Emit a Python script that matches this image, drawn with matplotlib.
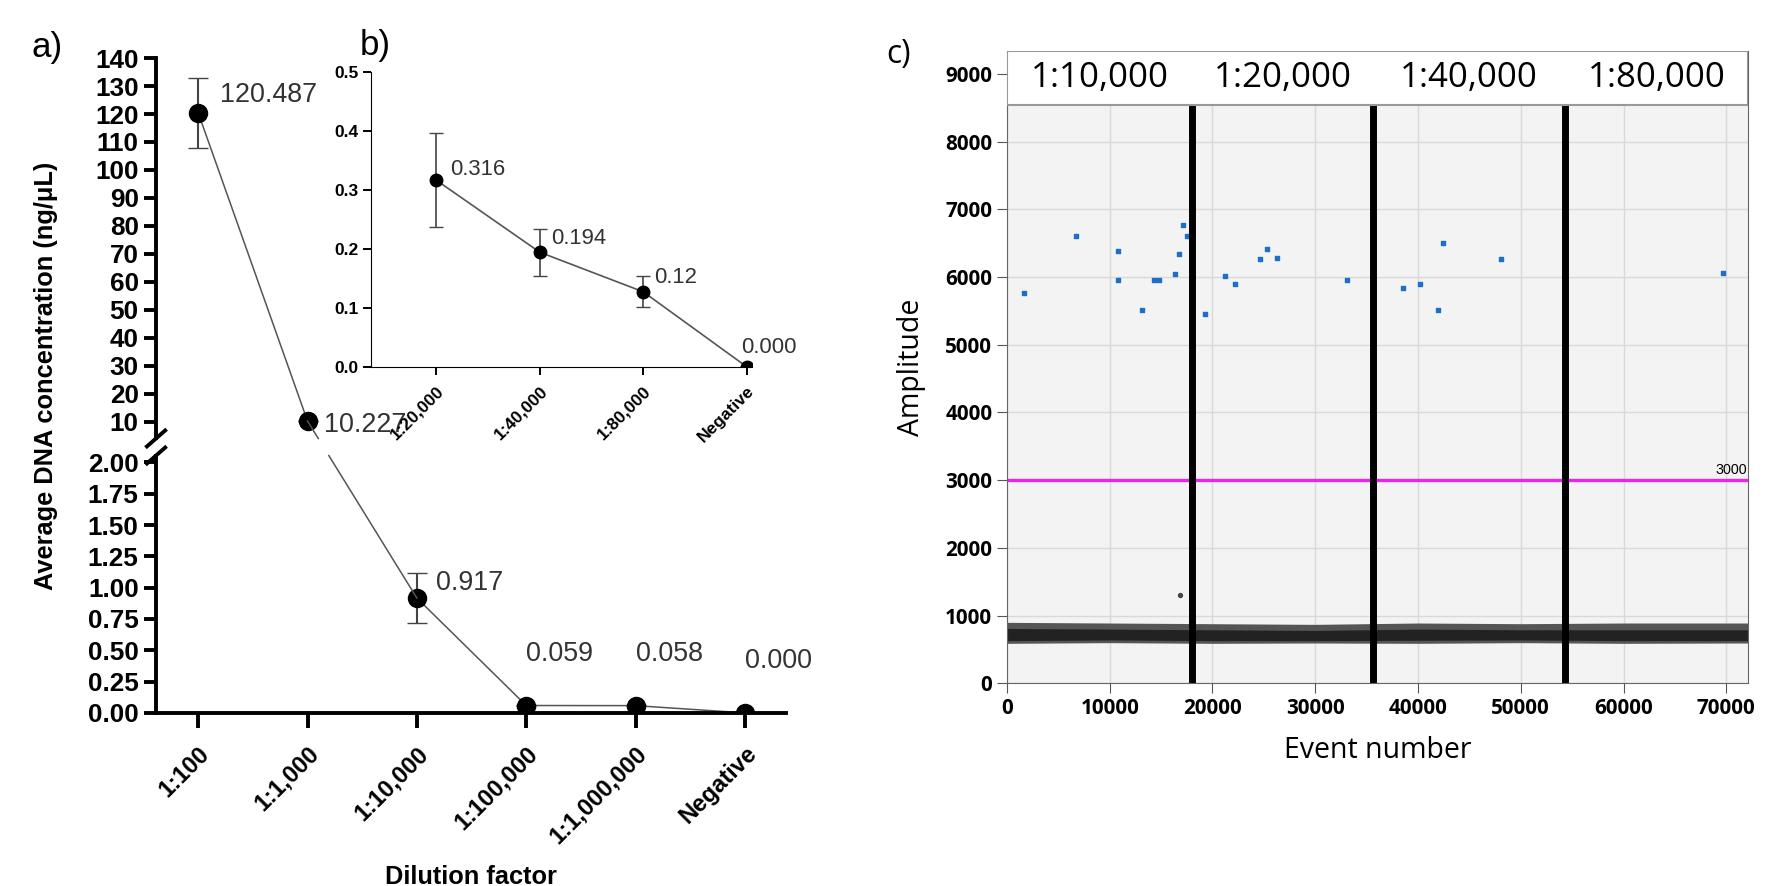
import matplotlib
matplotlib.use("Agg")
import matplotlib.pyplot as plt
import numpy as np

plt.rcParams['font.family'] = ['Liberation Sans', 'DejaVu Sans']

# ---- data panel a ----
cats_a = ["1:100", "1:1,000", "1:10,000", "1:100,000", "1:1,000,000", "Negative"]
vals_a = [120.487, 10.227, 0.917, 0.059, 0.058, 0.0]
err_a = [12.5, 0.0, 0.2, 0.004, 0.004, 0.0]
lbl_a = ["120.487", "10.227", "0.917", "0.059", "0.058", "0.000"]

# ---- data panel b ----
cats_b = ["1:20,000", "1:40,000", "1:80,000", "Negative"]
vals_b = [0.316, 0.194, 0.127, 0.0]
err_b = [0.080, 0.040, 0.026, 0.0]
lbl_b = ["0.316", "0.194", "0.12", "0.000"]

# ---- data panel c ----
pos_x = [1650, 6700, 10820, 10820, 13130, 14290, 14840, 16370, 16700, 17090, 17530,
         19290, 21260, 22200, 24620, 25270, 26320, 33080, 38570, 40220, 41920, 42420,
         48080, 69670]
pos_y = [5770, 6600, 6380, 5960, 5510, 5960, 5960, 6040, 6340, 6765, 6600,
         5450, 6020, 5900, 6260, 6420, 6280, 5955, 5830, 5900, 5510, 6500,
         6260, 6060]
neg_x = [0, 10000, 20000, 30000, 40000, 50000, 60000, 72150]
neg_lo = [590, 600, 590, 595, 590, 600, 590, 595]
neg_hi = [900, 890, 880, 870, 890, 880, 890, 890]
neg_core_lo = [630, 640, 630, 630, 635, 640, 630, 630]
neg_core_hi = [810, 800, 790, 780, 800, 790, 790, 790]
stray_x = [16800]
stray_y = [1300]
dividers = [18020, 35600, 54290]
sections = ["1:10,000", "1:20,000", "1:40,000", "1:80,000"]
threshold = 3000

W0, H0 = 1786, 886
W, H = 1568, 778   # coordinate basis used for layout
F = 1.14
fig = plt.figure(figsize=(W0/100, H0/100), dpi=100)

def fr(l, t, r, b):
    return [l/W, 1-b/H, (r-l)/W, (b-t)/H]

x = np.arange(len(cats_a))
axT = fig.add_axes(fr(137, 51, 690, 385))
axB = fig.add_axes(fr(137, 400, 690, 626))
kw = dict(color='#555555', lw=1.1, marker='o', ms=13, mfc='black', mec='black',
          capsize=7, ecolor='#444444', elinewidth=1.5)
axT.errorbar(x[:2], vals_a[:2], yerr=err_a[:2], **kw)
axB.errorbar(x[2:], vals_a[2:], yerr=err_a[2:], **kw)
for ax in (axT, axB):
    ax.set_xlim(-0.385, 5.375)
    for s in ('top', 'right'):
        ax.spines[s].set_visible(False)
    ax.spines['left'].set_linewidth(2.8)
    ax.tick_params(axis='y', width=2.8, length=9, labelsize=16.5*F)
axT.set_ylim(4, 140)
axT.set_yticks(np.arange(10, 141, 10))
axT.set_yticklabels([str(v) for v in range(10, 141, 10)], fontweight='bold')
axT.spines['bottom'].set_visible(False)
axT.set_xticks([])
axB.set_ylim(0, 2.055)
axB.set_yticks(np.arange(0, 2.01, 0.25))
axB.set_yticklabels([f"{v:.2f}" for v in np.arange(0, 2.01, 0.25)], fontweight='bold')
axB.spines['bottom'].set_linewidth(2.8)
axB.set_xticks(x)
axB.set_xticklabels(cats_a, rotation=45, ha='right', va='top', rotation_mode='anchor',
                    fontsize=15*F, fontweight='bold')
axB.tick_params(axis='x', width=2.8, length=11, pad=10)
axB.set_xlabel("Dilution factor", fontsize=16*F, fontweight='bold', labelpad=12)
fig.canvas.draw()
p1 = fig.transFigure.inverted().transform(axT.transData.transform((1, vals_a[1])))
p2 = fig.transFigure.inverted().transform(axB.transData.transform((2, vals_a[2])))
ybrk_top = fig.transFigure.inverted().transform(axT.transAxes.transform((0, 0)))[1]
ybrk_bot = fig.transFigure.inverted().transform(axB.transAxes.transform((0, 1)))[1]
def xat(yv):
    return p1[0] + (p2[0]-p1[0])*(yv-p1[1])/(p2[1]-p1[1])
fig.add_artist(plt.Line2D([p1[0], xat(ybrk_top)], [p1[1], ybrk_top], color='#555555', lw=1.1))
fig.add_artist(plt.Line2D([xat(ybrk_bot), p2[0]], [ybrk_bot, p2[1]], color='#555555', lw=1.1))

axT.annotate(lbl_a[0], (0, vals_a[0]), xytext=(16, 8), textcoords='offset points',
             fontsize=17*F, color='#333333')
axT.annotate(lbl_a[1], (1, vals_a[1]), xytext=(12, -8), textcoords='offset points',
             fontsize=17*F, color='#333333')
axB.annotate(lbl_a[2], (2, vals_a[2]), xytext=(14, 6), textcoords='offset points',
             fontsize=17*F, color='#333333')
for i in (3, 4, 5):
    axB.annotate(lbl_a[i], (i, vals_a[i]), xytext=(0, 32), textcoords='offset points',
                 fontsize=17*F, color='#333333')
for yb in (385, 400):
    fig.add_artist(plt.Line2D([129/W, 145/W], [1-(yb+7)/H, 1-(yb-7)/H], color='black', lw=2.8))
fig.text(40/W, 1-330/H, "Average DNA concentration (ng/μL)", rotation=90, fontsize=16*F,
         fontweight='bold', ha='center', va='center')
fig.text(28/W, 1-42/H, "a)", fontsize=22*F, va='center')

# inset b
axI = fig.add_axes(fr(326, 63, 660, 322))
xb = np.arange(len(cats_b))
axI.errorbar(xb, vals_b, yerr=err_b, color='#555555', lw=1.2, marker='o', ms=9,
             mfc='black', mec='black', capsize=5, ecolor='#444444', elinewidth=1.2)
axI.set_xlim(-0.63, 3.05)
axI.set_ylim(0, 0.5)
axI.set_yticks(np.arange(0, 0.51, 0.1))
axI.set_yticklabels([f"{v:.1f}" for v in np.arange(0, 0.51, 0.1)], fontsize=11*F, fontweight='bold')
axI.set_xticks(xb)
axI.set_xticklabels(cats_b, rotation=45, ha='right', va='top', rotation_mode='anchor',
                    fontsize=11*F, fontweight='bold')
for s in ('top', 'right'):
    axI.spines[s].set_visible(False)
axI.tick_params(width=1.4, length=6)
axI.tick_params(axis='x', pad=6)
offs = [(10, 4), (8, 6), (8, 6), (-4, 10)]
for i in range(4):
    axI.annotate(lbl_b[i], (i, vals_b[i]), xytext=offs[i], textcoords='offset points',
                 fontsize=14*F, color='#333333')
fig.text(316/W, 1-40/H, "b)", fontsize=22*F, va='center')

# panel c
axC = fig.add_axes(fr(884, 45, 1535, 600))
axC.set_facecolor('#f3f3f3')
axC.set_xlim(0, 72150)
axC.set_ylim(0, 9333)
axC.set_yticks(np.arange(0, 9001, 1000))
axC.set_xticks(np.arange(0, 70001, 10000))
axC.grid(True, color='#d9d9d9', lw=1)
axC.set_axisbelow(True)
axC.fill_between(neg_x, neg_lo, neg_hi, color='#555555', lw=0)
axC.fill_between(neg_x, neg_core_lo, neg_core_hi, color='#222222', lw=0)
axC.scatter(stray_x, stray_y, s=8, color='#444444')
axC.scatter(pos_x, pos_y, s=10, color='#1f6fc5', marker='s')
axC.axhline(threshold, color='#ee22ee', lw=2.4)
axC.text(72000, threshold + 40, "3000", fontsize=9*F, ha='right', va='bottom')
for d in dividers:
    axC.plot([d, d], [0, 8540], color='black', lw=5)
axC.add_patch(plt.Rectangle((0, 8540), 72150, 793, facecolor='white', edgecolor='#999999',
                            lw=1.5, zorder=5))
bounds = [0] + dividers + [72150]
for i, s in enumerate(sections):
    axC.text((bounds[i] + bounds[i+1]) / 2, 8937, s, fontsize=22*F, ha='center', va='center',
             zorder=6, family=['Open Sans', 'DejaVu Sans'])
axC.spines['top'].set_visible(False)
for s in ('left', 'right', 'bottom'):
    axC.spines[s].set_color('#666666')
axC.tick_params(labelsize=13*F, color='#555555', length=7)
for t in axC.get_xticklabels() + axC.get_yticklabels():
    t.set_fontweight('bold')
    t.set_family(['Open Sans', 'DejaVu Sans'])
axC.set_ylabel("Amplitude", fontsize=18*F, family=['Open Sans', 'DejaVu Sans'], labelpad=14)
axC.set_xlabel("Event number", fontsize=18*F, family=['Open Sans', 'DejaVu Sans'], labelpad=12)
fig.text(778/W, 1-48/H, "c)", fontsize=20*F, va='center', family=['Open Sans', 'DejaVu Sans'])

fig.savefig("out.png", dpi=100)
